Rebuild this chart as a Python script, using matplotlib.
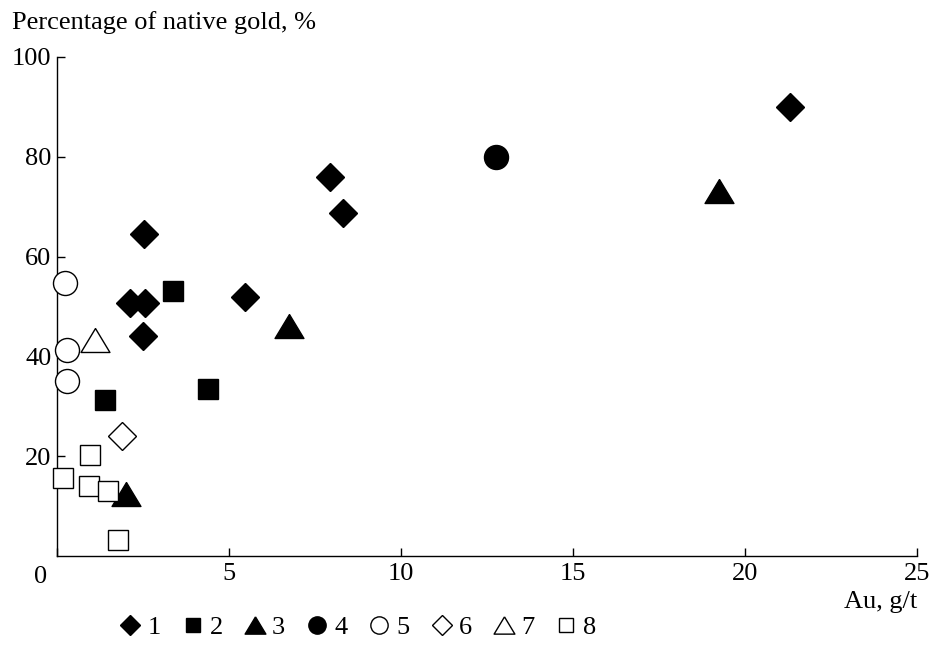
import matplotlib.pyplot as plt

plt.rcParams['font.family'] = ['Liberation Serif', 'DejaVu Serif']
plt.rcParams['font.size'] = 19

# Au content (g/t) and share of native gold (%) for each sample group
au_1 = [2.53, 2.12, 2.56, 5.45, 7.94, 8.30, 21.31, 2.49]
gold_1 = [64.5, 50.7, 50.8, 51.9, 75.9, 68.7, 89.9, 44.1]

au_2 = [3.38, 1.38, 4.38]
gold_2 = [53.2, 31.2, 33.5]

au_3 = [6.73, 19.25, 2.0]
gold_3 = [46.0, 73.2, 12.5]

au_4 = [12.75]
gold_4 = [79.9]

au_5 = [0.23, 0.28, 0.28]
gold_5 = [54.7, 41.2, 35.1]

au_6 = [1.90]
gold_6 = [24.1]

au_7 = [1.10]
gold_7 = [43.2]

au_8 = [0.97, 0.17, 0.93, 1.49, 1.76]
gold_8 = [20.3, 15.7, 14.0, 13.0, 3.3]

group_names = ['1', '2', '3', '4', '5', '6', '7', '8']

# wide triangle, a bit lower than it is wide
tri = [(0, 0.83), (-1, -0.83), (1, -0.83), (0, 0.83)]

styles = [
    dict(marker='D', ms=14.3, mfc='black'),
    dict(marker='s', ms=14.4, mfc='black'),
    dict(marker=tri, ms=20.8, mfc='black'),
    dict(marker='o', ms=17.3, mfc='black'),
    dict(marker='o', ms=17.3, mfc='white'),
    dict(marker='D', ms=14.3, mfc='white'),
    dict(marker=tri, ms=20.8, mfc='white'),
    dict(marker='s', ms=14.4, mfc='white'),
]
xs = [au_1, au_2, au_3, au_4, au_5, au_6, au_7, au_8]
ys = [gold_1, gold_2, gold_3, gold_4, gold_5, gold_6, gold_7, gold_8]

fig = plt.figure(figsize=(9.35, 6.52), dpi=100)
ax = fig.add_axes([0.061, 0.1472, 0.92, 0.7654])

handles = []
for x, y, name, st in zip(xs, ys, group_names, styles):
    h, = ax.plot(x, y, linestyle='none', mec='black', mew=1.0,
                 clip_on=False, label=name, zorder=3, **st)
    handles.append(h)

ax.set_xlim(0, 25)
ax.set_ylim(0, 100)
ax.set_xticks([0, 5, 10, 15, 20, 25])
ax.set_xticklabels(['', '5', '10', '15', '20', '25'])
ax.set_yticks([20, 40, 60, 80, 100])
ax.tick_params(direction='in', length=6, width=1)
ax.tick_params(axis='x', pad=5)
ax.tick_params(axis='y', pad=4)
ax.spines['top'].set_visible(False)
ax.spines['right'].set_visible(False)
for s in ('left', 'bottom'):
    ax.spines[s].set_linewidth(1.0)

ax.annotate('0', xy=(0, 0), xytext=(-12, -7), textcoords='offset points',
            ha='center', va='top')
fig.text(0.013, 0.966, 'Percentage of native gold, %', ha='left', va='center')
fig.text(0.981, 0.077, 'Au, g/t', ha='right', va='center')

fig.legend(handles=handles, loc='center', bbox_to_anchor=(0.383, 0.038),
           ncol=8, frameon=False, markerscale=0.72, handlelength=0.8,
           handletextpad=0.25, columnspacing=0.81, borderpad=0)

fig.savefig('out.png', dpi=100)
